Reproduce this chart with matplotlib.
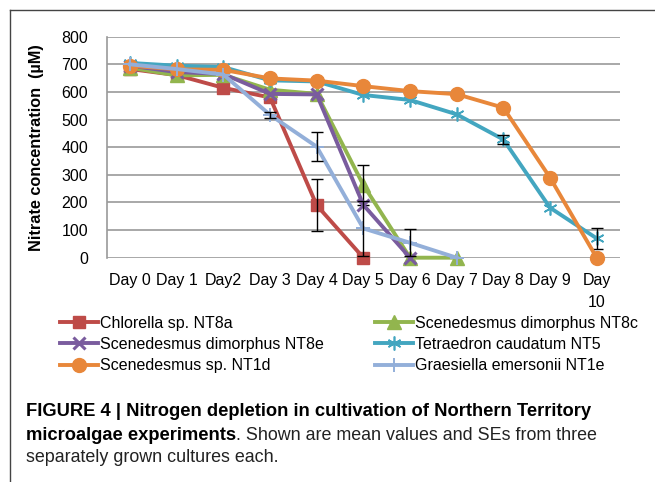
import matplotlib
matplotlib.use("Agg")
import matplotlib.pyplot as plt
from matplotlib.lines import Line2D
import numpy as np

plt.rcParams['font.family'] = ['Liberation Sans', 'DejaVu Sans']

# ---------------- data ----------------
day_labels = ["Day 0", "Day 1", "Day2", "Day 3", "Day 4", "Day 5", "Day 6",
              "Day 7", "Day 8", "Day 9", "Day\n10"]

chlorella_nt8a = [683, 661, 615, 580, 190, 0]
chlorella_nt8a_se = [0, 0, 0, 0, 95, 0]

sdim_nt8c = [688, 660, 662, 608, 593, 263, 0, 0]
sdim_nt8c_se = [0, 0, 0, 0, 0, 72, 0, 0]

sdim_nt8e = [695, 672, 665, 593, 591, 191, 0]
sdim_nt8e_se = [0, 0, 0, 0, 0, 0, 0]

tetra_nt5 = [705, 695, 690, 642, 638, 589, 571, 519, 428, 181, 70]
tetra_nt5_se = [0, 0, 0, 0, 0, 0, 0, 0, 15, 0, 38]

scen_nt1d = [695, 682, 680, 649, 641, 621, 603, 592, 543, 290, 0]
scen_nt1d_se = [0] * 11

graes_nt1e = [700, 683, 663, 517, 402, 106, 54, 0]
graes_nt1e_se = [0, 0, 0, 12, 52, 100, 49, 0]

names = ["Chlorella sp. NT8a", "Scenedesmus dimorphus NT8c",
         "Scenedesmus dimorphus NT8e", "Tetraedron caudatum NT5",
         "Scenedesmus sp. NT1d", "Graesiella emersonii NT1e"]

series = [chlorella_nt8a, sdim_nt8c, sdim_nt8e, tetra_nt5, scen_nt1d, graes_nt1e]
errors = [chlorella_nt8a_se, sdim_nt8c_se, sdim_nt8e_se, tetra_nt5_se,
          scen_nt1d_se, graes_nt1e_se]

colors = ['#BE4B48', '#92B54E', '#7A5C9E', '#43A6C0', '#E8873A', '#93AFD9']
markers = ['s', '^', 'x', (6, 2, 0), 'o', '+']
msizes = [9, 10, 9, 10, 10, 10]
mews = [1, 1, 2.2, 1.2, 1, 1.4]

# ---------------- figure ----------------
W, H = 655, 482
fig = plt.figure(figsize=(W / 100, H / 100), dpi=100)
fig.patch.set_facecolor('white')

ax_l, ax_r, ax_t, ax_b = 106.7, 620.0, 36.7, 257.7
ax = fig.add_axes([ax_l / W, 1 - ax_b / H, (ax_r - ax_l) / W, (ax_b - ax_t) / H])

fs = 11.5
handles = []
for i, (vals, se) in enumerate(zip(series, errors)):
    x = np.arange(len(vals))
    ln, = ax.plot(x, vals, color=colors[i], lw=2.8, marker=markers[i],
                  ms=msizes[i], mfc=colors[i], mec=colors[i], mew=mews[i],
                  label=names[i], zorder=3 + i, clip_on=False,
                  solid_joinstyle='round')
    handles.append(ln)
    se = np.asarray(se, dtype=float)
    m = se > 0
    if m.any():
        ax.errorbar(x[m], np.asarray(vals, dtype=float)[m], yerr=se[m],
                    fmt='none', ecolor='black', elinewidth=1.0, capsize=4,
                    capthick=1.0, zorder=3 + i + 0.5)

ax.set_xlim(-0.5, 10.5)
ax.set_ylim(0, 800)
ax.set_yticks(np.arange(0, 801, 100))
ax.set_xticks(np.arange(len(day_labels)))
ax.set_xticklabels(day_labels, fontsize=fs, linespacing=1.55)
ax.tick_params(axis='y', length=0, pad=13.5, labelsize=fs)
ax.tick_params(axis='x', length=0, pad=11, labelsize=fs)

ax.grid(axis='y', color='#9A9A9A', lw=1.2, zorder=0)
ax.set_axisbelow(True)
for s in ['top', 'right', 'bottom']:
    ax.spines[s].set_visible(False)
ax.spines['left'].set_color('#9A9A9A')
ax.spines['left'].set_linewidth(1.2)

fig.text(37 / W, 1 - 148 / H, "Nitrate concentration  (\u00b5M)", rotation=90,
         ha='center', va='center', fontsize=11.7, fontweight='bold')

# ---------------- legend (two columns, row-major like Excel) ----------------
col1 = [0, 2, 4]
col2 = [1, 3, 5]
leg_kw = dict(frameon=False, fontsize=fs, handlelength=2.4, handletextpad=0.1,
              labelspacing=0.38, borderpad=0, borderaxespad=0, numpoints=1,
              loc='upper left')
leg1 = fig.legend([handles[i] for i in col1], [names[i] for i in col1],
                  bbox_to_anchor=(60 / W, 1 - 316 / H), **leg_kw)
leg2 = fig.legend([handles[i] for i in col2], [names[i] for i in col2],
                  bbox_to_anchor=(375 / W, 1 - 316 / H), **leg_kw)

# ---------------- caption ----------------
bfs = 13.2
rfs = 12.9
r = fig.canvas.get_renderer()
cx = 26 / W
fig.text(cx, 1 - 416 / H,
         "FIGURE 4 | Nitrogen depletion in cultivation of Northern Territory",
         fontsize=bfs, fontweight='bold', va='baseline', ha='left')
tb = fig.text(cx, 1 - 440 / H, "microalgae experiments", fontsize=bfs,
              fontweight='bold', va='baseline', ha='left')
bb = tb.get_window_extent(renderer=r)
fig.text(bb.x1 / W, 1 - 440 / H, ". Shown are mean values and SEs from three",
         fontsize=rfs, va='baseline', ha='left', color='#222222')
fig.text(cx, 1 - 462 / H, "separately grown cultures each.", fontsize=rfs,
         va='baseline', ha='left', color='#222222')

# ---------------- outer border ----------------
fig.add_artist(Line2D([9.5 / W, 9.5 / W], [0, 1 - 9.5 / H],
                      transform=fig.transFigure, color='#444444', lw=1))
fig.add_artist(Line2D([9.5 / W, 1], [1 - 9.5 / H, 1 - 9.5 / H],
                      transform=fig.transFigure, color='#444444', lw=1))

fig.savefig("out.png", dpi=100)
